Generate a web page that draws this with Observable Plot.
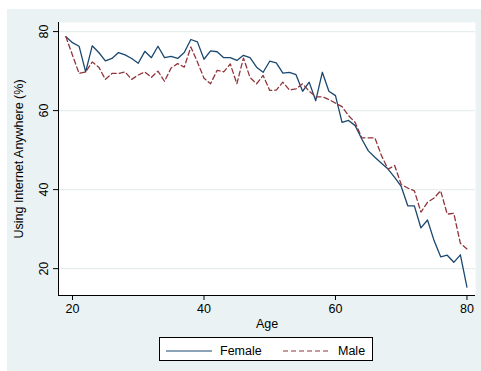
<!DOCTYPE html>
<html><head><meta charset="utf-8">
<script src="https://cdn.jsdelivr.net/npm/d3@7"></script>
<script src="https://cdn.jsdelivr.net/npm/@observablehq/plot@0.6"></script>
<style>
body{margin:0;background:#fff;font-family:"Liberation Sans",Arial,sans-serif;}
#panel{position:absolute;left:7px;top:9px;width:474px;height:362px;background:#eaf2f3;}
#chart{position:absolute;left:0;top:0;}
#legend{position:absolute;left:152px;top:328px;width:212px;height:22px;background:#fff;border:1px solid #000;}
</style>
</head><body>
<div id="panel"><div id="chart"></div><div id="legend"></div></div>
<script>
const ages = d3.range(19, 81);
const female = [78.7,77.2,76.3,69.8,76.4,74.7,72.6,73.2,74.7,74.1,73.2,72.0,75.0,73.4,76.3,73.4,73.7,73.2,74.7,78.0,77.4,73.0,75.1,74.9,73.4,73.4,72.7,74.0,73.4,71.0,69.7,72.5,72.1,69.5,69.7,69.1,64.9,67.2,62.5,69.7,64.9,63.8,57.0,57.5,56.2,52.8,49.8,48.2,46.7,45.2,43.1,40.8,35.9,35.9,30.3,32.3,27.1,23.0,23.4,21.6,23.5,15.3];
const male = [78.7,74.0,69.4,69.8,72.3,71.0,67.9,69.4,69.4,69.8,67.9,69.0,69.8,68.4,70.0,67.4,70.8,71.9,71.0,76.1,72.3,68.2,66.8,70.2,69.8,71.8,66.8,73.3,68.4,66.8,68.9,65.1,65.2,67.2,65.2,65.5,66.8,64.9,63.5,63.5,62.8,61.9,61.0,58.7,57.0,53.1,53.1,53.1,48.6,45.2,46.1,41.3,40.4,39.7,34.3,36.8,37.9,39.7,33.8,34.0,26.4,25.0];
const seriesNames = ["Female", "Male"];
const seriesColors = ["#1a476f", "#90353b"];
const xTicks = [20, 40, 60, 80];
const yTicks = [20, 40, 60, 80];
const xLabel = "Age";
const yLabel = "Using Internet Anywhere (%)";

const fData = ages.map((a, i) => ({age: a, value: female[i]}));
const mData = ages.map((a, i) => ({age: a, value: male[i]}));
const xDom = [17.87, 81.3], yDom = [13.2, 82.3];

const chart = Plot.plot({
  width: 474, height: 323,
  marginLeft: 51, marginRight: 6, marginTop: 13, marginBottom: 37,
  style: {background: "transparent", fontFamily: "'Liberation Sans', Arial, sans-serif", fontSize: "12.5px", color: "#000"},
  x: {domain: xDom},
  y: {domain: yDom},
  marks: [
    Plot.frame({fill: "white", stroke: null}),
    Plot.gridY(yTicks, {stroke: "#e6eef0", strokeOpacity: 1, strokeWidth: 1.2}),
    Plot.line(fData, {x: "age", y: "value", stroke: seriesColors[0], strokeWidth: 1.3}),
    Plot.line(mData, {x: "age", y: "value", stroke: seriesColors[1], strokeWidth: 1.3, strokeDasharray: "5,3"}),
    Plot.axisY(yTicks, {tickSize: 5, tickPadding: 6, tickRotate: -90, textAnchor: "middle", lineAnchor: "bottom", label: yLabel, labelAnchor: "center", labelArrow: "none", labelOffset: 44, stroke: "#000"}),
    Plot.axisX(xTicks, {tickSize: 5, tickPadding: 4, label: xLabel, labelAnchor: "center", labelArrow: "none", labelOffset: 32, stroke: "#000"}),
    Plot.ruleX([xDom[0]], {stroke: "#000", strokeWidth: 1}),
    Plot.ruleY([yDom[0]], {stroke: "#000", strokeWidth: 1})
  ]
});
document.getElementById("chart").appendChild(chart);

const lg = d3.select("#legend").append("svg").attr("width", 212).attr("height", 22)
  .style("font-family", "'Liberation Sans', Arial, sans-serif").style("font-size", "12.5px");
const pos = [{x0: 6, x1: 52, tx: 60}, {x0: 123, x1: 171, tx: 178}];
seriesNames.forEach((n, i) => {
  lg.append("line").attr("x1", pos[i].x0).attr("x2", pos[i].x1).attr("y1", 13).attr("y2", 13)
    .attr("stroke", seriesColors[i]).attr("stroke-width", 1.2)
    .attr("stroke-dasharray", i === 1 ? "5,3" : null);
  lg.append("text").attr("x", pos[i].tx).attr("y", 17).text(n);
});
</script>
</body></html>
